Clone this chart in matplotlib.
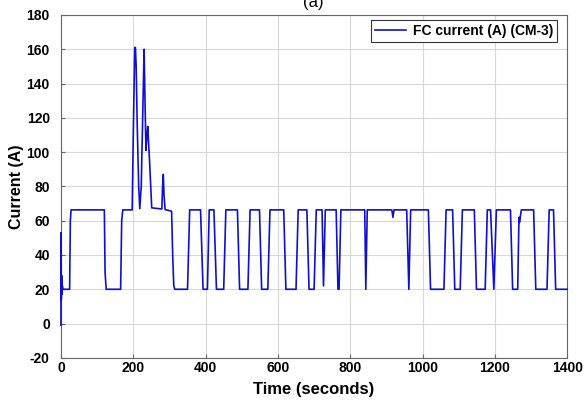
import matplotlib.pyplot as plt

plt.rcParams['font.family'] = ['Liberation Sans', 'DejaVu Sans']
plt.rcParams['axes.unicode_minus'] = False

# FC current trace, vertices (time in s, current in A)
startup_t = [0, 0.4, 1.0, 1.8, 2.8, 4, 5, 24, 26, 28, 120, 122, 125, 165, 168, 171, 197]
startup_i = [-1, 53, 14, 28, 17, 22, 20, 20, 60, 66.3, 66.3, 30, 20, 20, 60, 66.3, 66.3]

peaks_t = [200, 204, 206, 208, 211, 215, 218, 222, 226, 230, 232, 235, 238, 240,
           245, 251, 279, 281, 283, 285, 288, 306, 309, 312, 315]
peaks_i = [110, 161, 161, 150, 115, 80, 67, 80, 120, 160, 135, 101, 110, 115,
           95, 67.5, 66.8, 80, 87, 75, 66.5, 65.5, 40, 22, 20]

pulses_t = [350, 356, 386, 393, 405, 410, 423, 430, 450, 456, 488, 494, 517, 523,
            549, 555, 572, 578, 616, 622, 650, 656, 680, 686, 700, 706, 722, 726,
            731, 761, 766, 769, 774, 840, 843, 847, 915, 918, 921, 956, 962, 967,
            1016, 1022, 1059, 1065, 1083, 1089, 1104, 1110, 1143, 1149, 1173, 1179,
            1188, 1197, 1204, 1243, 1249, 1263, 1266, 1267, 1268, 1273, 1307, 1313,
            1344, 1350, 1362, 1368, 1400]
pulses_i = [20, 66.3, 66.3, 20, 20, 66.3, 66.3, 20, 20, 66.3, 66.3, 20, 20, 66.3,
            66.3, 20, 20, 66.3, 66.3, 20, 20, 66.3, 66.3, 20, 20, 66.3, 66.3, 22,
            66.3, 66.3, 20, 20, 66.3, 66.3, 20, 66.3, 66.3, 62, 66.3, 66.3, 20, 66.3,
            66.3, 20, 20, 66.3, 66.3, 20, 20, 66.3, 66.3, 20, 20, 66.3,
            66.3, 20, 66.3, 66.3, 20, 20, 56, 62, 59, 66.3, 66.3, 20,
            20, 66.3, 66.3, 20, 20]

time_s = startup_t + peaks_t + pulses_t
current_a = startup_i + peaks_i + pulses_i

x_ticks = list(range(0, 1401, 200))
y_ticks = list(range(-20, 181, 20))

fig = plt.figure(figsize=(5.86, 4.03), dpi=100)
ax = fig.add_axes([0.104, 0.112, 0.864, 0.851])

ax.plot(time_s, current_a, color='#1010cc', lw=1.2, label='FC current (A) (CM-3)',
        zorder=3, clip_on=False)

ax.set_xlim(0, 1400)
ax.set_ylim(-20, 180)
ax.set_xticks(x_ticks)
ax.set_yticks(y_ticks)
ax.grid(True, color='#d8d8d8', lw=0.8)
ax.set_axisbelow(True)
ax.tick_params(direction='in', length=3, color='#666666', labelsize=10)
ax.tick_params(axis='x', pad=2)
ax.tick_params(axis='y', pad=8)
for lbl in ax.get_xticklabels() + ax.get_yticklabels():
    lbl.set_fontweight('bold')
for sp in ax.spines.values():
    sp.set_color('#666666')
    sp.set_linewidth(0.8)

ax.set_xlabel('Time (seconds)', fontsize=12, fontweight='bold', labelpad=5)
ax.set_ylabel('Current (A)', fontsize=11.5, fontweight='bold', labelpad=2)

leg = ax.legend(loc='upper right', bbox_to_anchor=(0.98, 0.985), fancybox=False,
                edgecolor='#333333', framealpha=1, handlelength=2.2,
                borderaxespad=0, prop={'weight': 'bold', 'size': 10},
                borderpad=0.3, handletextpad=0.5)
leg.get_frame().set_linewidth(0.8)

fig.text(0.535, 0.995, '(a)', ha='center', va='center', fontsize=12)

fig.savefig('out.png', dpi=100)
